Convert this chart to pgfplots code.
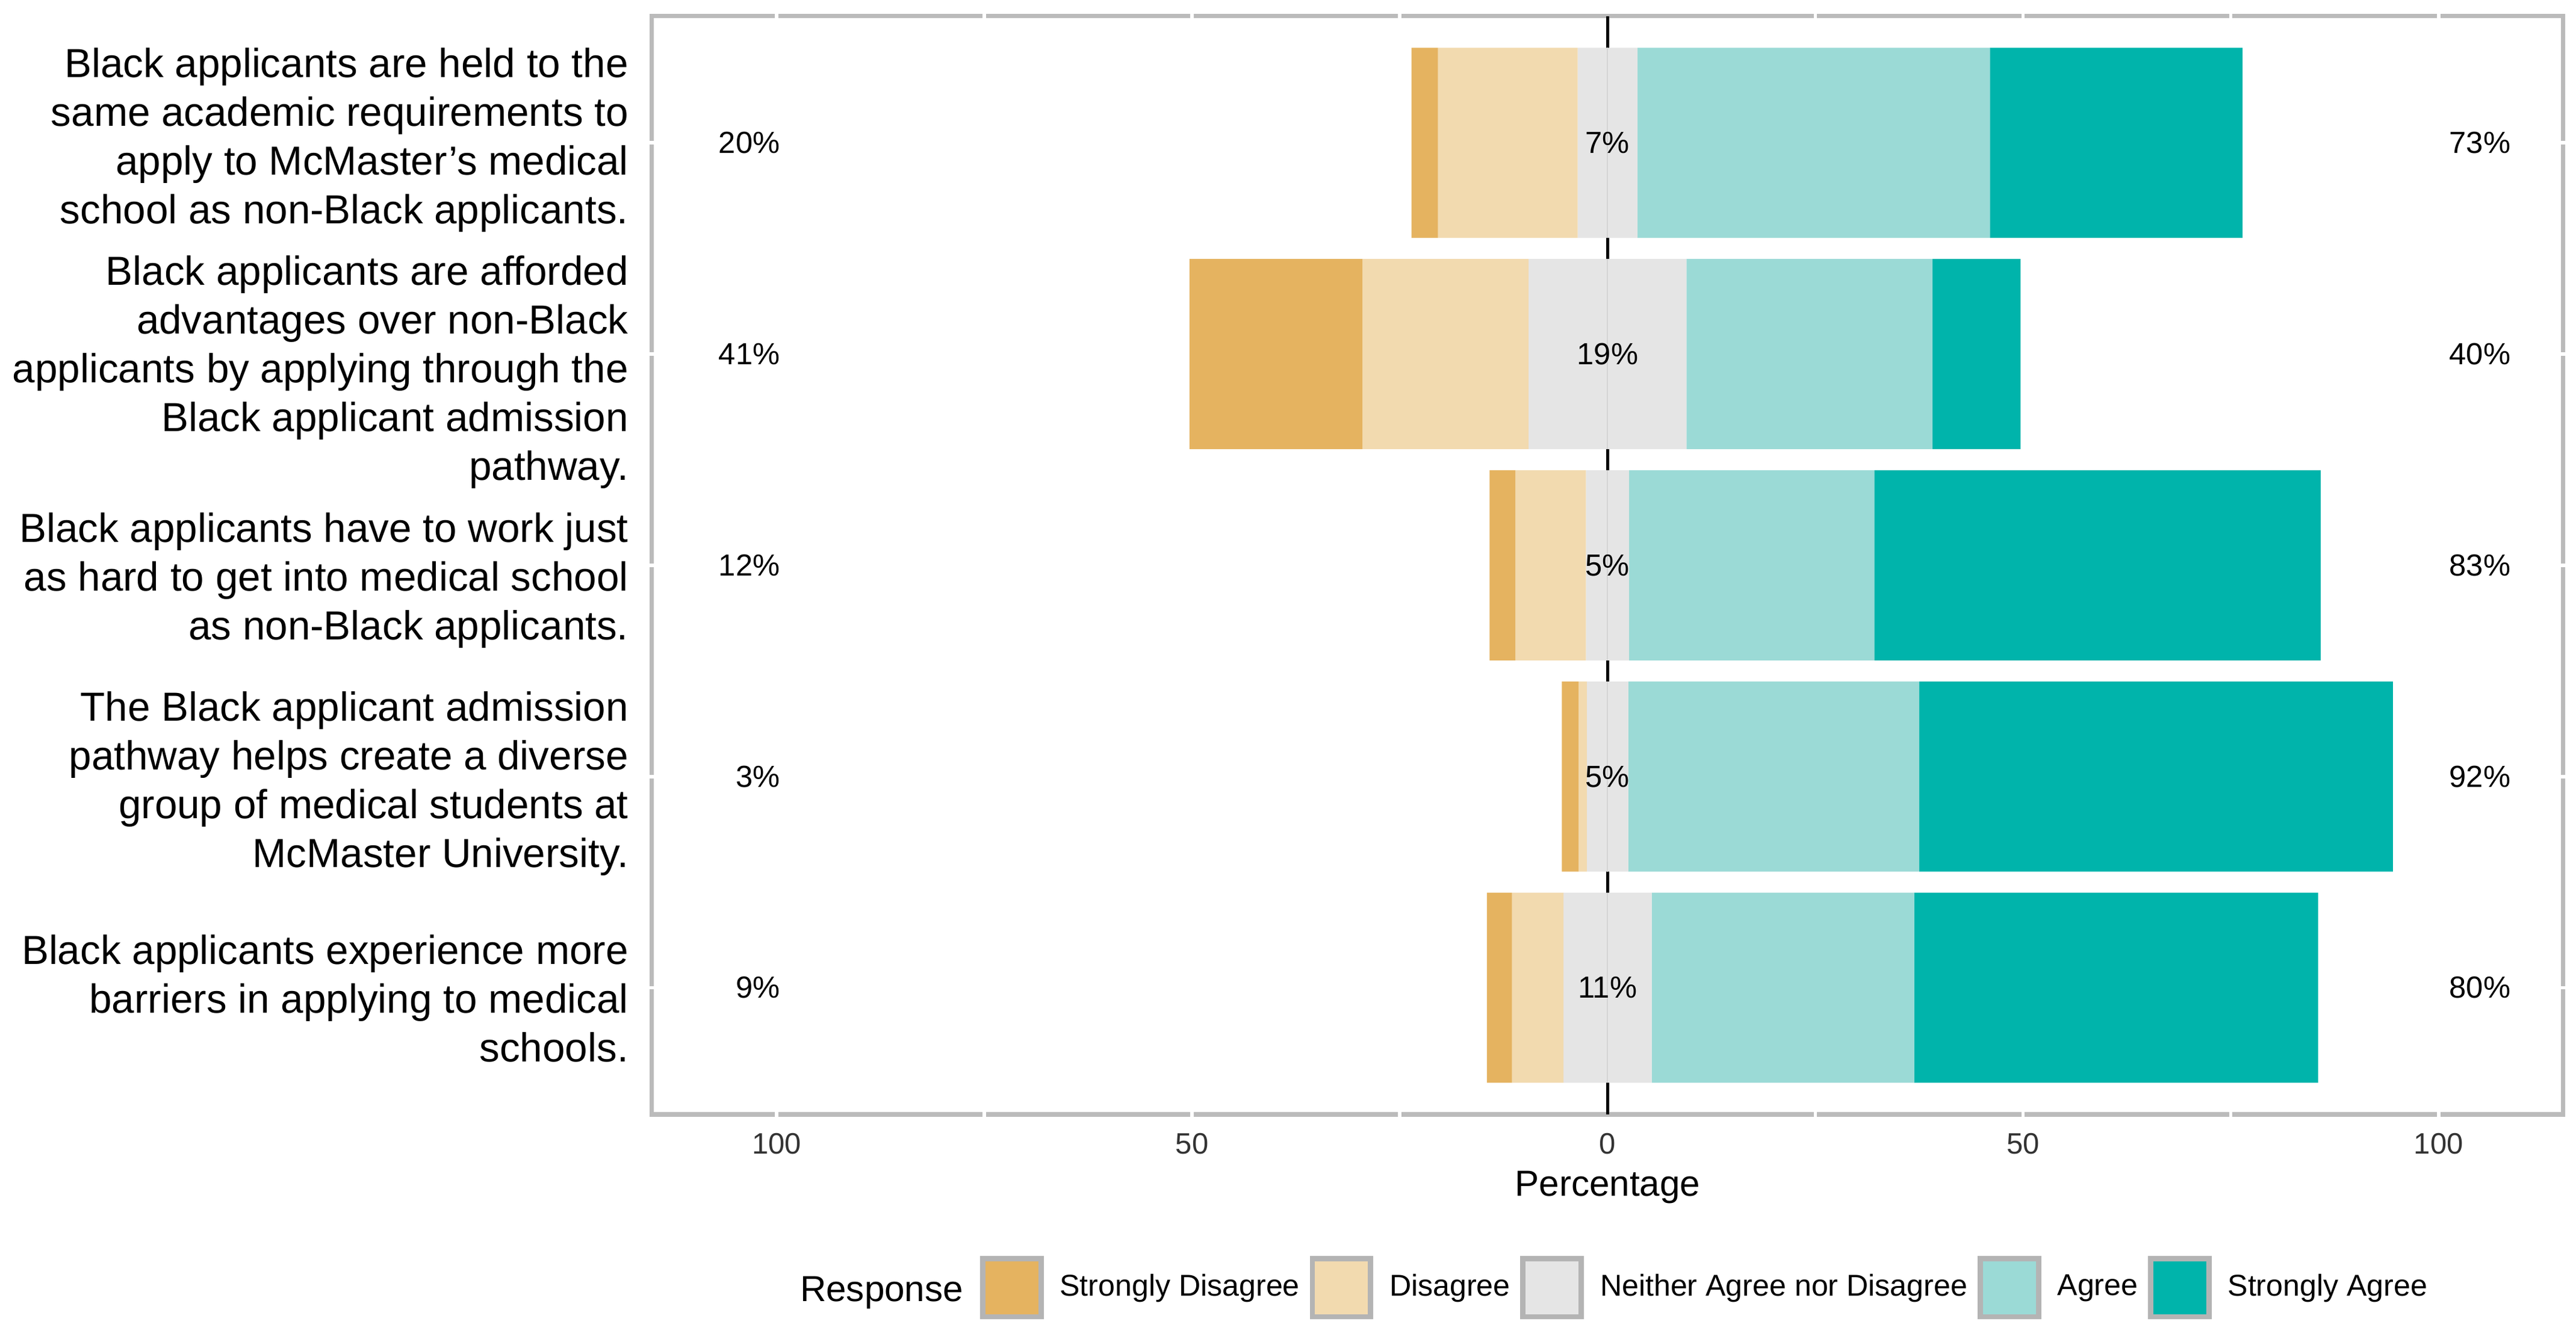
\documentclass[border=0pt]{standalone}
\usepackage{fontspec}
\setmainfont{Liberation Sans}
\usepackage{pgfplots}
\usepackage{pgfplotstable}
\pgfplotsset{compat=1.18}

\definecolor{sdis}{HTML}{E5B360}
\definecolor{dis}{HTML}{F2DAAF}
\definecolor{neu}{HTML}{E5E5E5}
\definecolor{agr}{HTML}{9BDAD6}
\definecolor{sagr}{HTML}{00B4AB}
\definecolor{panelborder}{HTML}{BBBBBB}
\definecolor{keyborder}{HTML}{B4B4B4}
\definecolor{tickgray}{HTML}{333333}
\definecolor{midline}{HTML}{D4D4D4}

\newcommand\ylabfont{\fontsize{12.1}{14.55}\selectfont}
\newcommand\tickfont{\fontsize{8.8}{10.5}\selectfont}
\newcommand\legfont{\fontsize{9}{11}\selectfont}
\newcommand\titlefont{\fontsize{10.8}{13}\selectfont}
\newcommand\pctfont{\fontsize{9.1}{11}\selectfont}

% shares of each response, per statement (row 1 = top)
\pgfplotstableread{
row sd   d    n    a    sa
1   3.2  16.8 7.2  42.4 30.4
2   20.8 20.0 19.0 29.6 10.6
3   3.1  8.5  5.2  29.5 53.7
4   2.0  1.0  5.0  35.0 57.0
5   3.0  6.2  10.6 31.6 48.6
}\likert

% printed totals: disagree side, neutral, agree side
\pgfplotstableread{
row left mid right
1   20   7   73
2   41   19  40
3   12   5   83
4   3    5   92
5   9    11  80
}\pcts

% the x axis is drawn shifted by +100 (so the centre line sits at 100)
% to keep every stacked value positive
\pgfplotsset{
  keybox/.style={legend image code/.code={%
    \draw[##1,draw=keyborder,line width=1.6pt] (0pt,-8.7pt) rectangle (17.4pt,8.7pt);}},
  panel/.style={
    at={(194.4pt,-332.3pt)}, anchor=south west,
    scale only axis, width=570pt, height=327.5pt,
    xmin=-15, xmax=215, ymin=0.4, ymax=5.6, y dir=reverse,
  },
  pctlabel/.style={draw=none, mark=none, forget plot, point meta=explicit symbolic,
    nodes near coords align={center},
    nodes near coords style={inner sep=0pt, font=\pctfont, text=black}},
}

\begin{document}
\begin{tikzpicture}
\path[use as bounding box, fill=white] (0,0) rectangle (768.2pt,-396.4pt);

\begin{axis}[
  panel,
  xbar stacked, bar width=0.9,
  axis line style={draw=panelborder, line width=1.3pt},
  xtick={0,50,100,150,200},
  xticklabels={100,50,0,50,100},
  extra x ticks={100}, extra x tick labels={},
  extra x tick style={grid=major, major grid style={black, line width=0.9pt}},
  ytick={1,2,3,4,5},
  yticklabels={
    {Black applicants are held to the\\same academic requirements to\\apply to McMaster’s medical\\school as non-Black applicants.},
    {Black applicants are afforded\\advantages over non-Black\\applicants by applying through the\\Black applicant admission\\pathway.},
    {Black applicants have to work just\\as hard to get into medical school\\as non-Black applicants.},
    {The Black applicant admission\\pathway helps create a diverse\\group of medical students at\\McMaster University.},
    {Black applicants experience more\\barriers in applying to medical\\schools.}},
  major tick length=0pt,
  xticklabel style={anchor=north, inner sep=0pt, yshift=-5.4pt, font=\tickfont, text=tickgray},
  yticklabel style={anchor=east, inner sep=0pt, xshift=-6.8pt, align=right, font=\ylabfont,
    yshift={{0.8,-5.4,-4.5,-2.2,-3.2}[\ticknum]*1pt}},
  xlabel={Percentage},
  xlabel style={at={(axis description cs:0.5,-0.074)}, anchor=base, inner sep=0pt, font=\titlefont},
]
% invisible offset so that the neutral share is centred on the middle line
\addplot[draw=none, fill=none]
  table[x expr={100-\thisrow{sd}-\thisrow{d}-0.5*\thisrow{n}}, y=row] {\likert};
\addplot[draw=none, fill=sdis] table[x=sd, y=row] {\likert};
\addplot[draw=none, fill=dis]  table[x=d,  y=row] {\likert};
\addplot[draw=none, fill=neu]  table[x=n,  y=row] {\likert};
\addplot[draw=none, fill=agr]  table[x=a,  y=row] {\likert};
\addplot[draw=none, fill=sagr] table[x=sa, y=row] {\likert};
\end{axis}

\begin{axis}[panel, hide axis, clip=false,
  legend columns=-1,
  legend style={at={(0.1713,-0.1576)}, anchor=west, draw=none, fill=none,
    inner sep=0pt, font=\legfont, nodes={inner sep=0pt},
    /tikz/every odd column/.append style={column sep=4.8pt},
    /tikz/every even column/.append style={column sep=3pt}},
]
% white grid lines showing through the panel border
\pgfplotsinvokeforeach{0,25,50,75,125,150,175,200}{
  \draw[white, line width=1pt] (#1,0.38) -- (#1,0.42);
  \draw[white, line width=1pt] (#1,5.58) -- (#1,5.62);
}
\pgfplotsinvokeforeach{1,2,3,4,5}{
  \draw[white, line width=1pt] (-15.6,#1) -- (-14.4,#1);
  \draw[white, line width=1pt] (214.4,#1) -- (215.6,#1);
}
\draw[midline, line width=0.35pt] (100,0.55) -- (100,1.45);
\draw[midline, line width=0.35pt] (100,1.55) -- (100,2.45);
\draw[midline, line width=0.35pt] (100,2.55) -- (100,3.45);
\draw[midline, line width=0.35pt] (100,3.55) -- (100,4.45);
\draw[midline, line width=0.35pt] (100,4.55) -- (100,5.45);

\addplot[pctlabel, nodes near coords={\llap{\pgfplotspointmeta\%}}]
  table[x expr=0.4, y=row, meta=left] {\pcts};
\addplot[pctlabel, nodes near coords={\pgfplotspointmeta\%}]
  table[x expr=100, y=row, meta=mid] {\pcts};
\addplot[pctlabel, nodes near coords={\rlap{\pgfplotspointmeta\%}}]
  table[x expr=201.3, y=row, meta=right] {\pcts};

\addlegendimage{keybox, draw=none, fill=sdis}
\addlegendentry{Strongly Disagree}
\addlegendimage{keybox, draw=none, fill=dis}
\addlegendentry{Disagree}
\addlegendimage{keybox, draw=none, fill=neu}
\addlegendentry{Neither Agree nor Disagree}
\addlegendimage{keybox, draw=none, fill=agr}
\addlegendentry{Agree}
\addlegendimage{keybox, draw=none, fill=sagr}
\addlegendentry{Strongly Agree}
\end{axis}

\node[anchor=base west, inner sep=0pt, font=\titlefont] at (238.4pt,-388.0pt) {Response};
\end{tikzpicture}
\end{document}
